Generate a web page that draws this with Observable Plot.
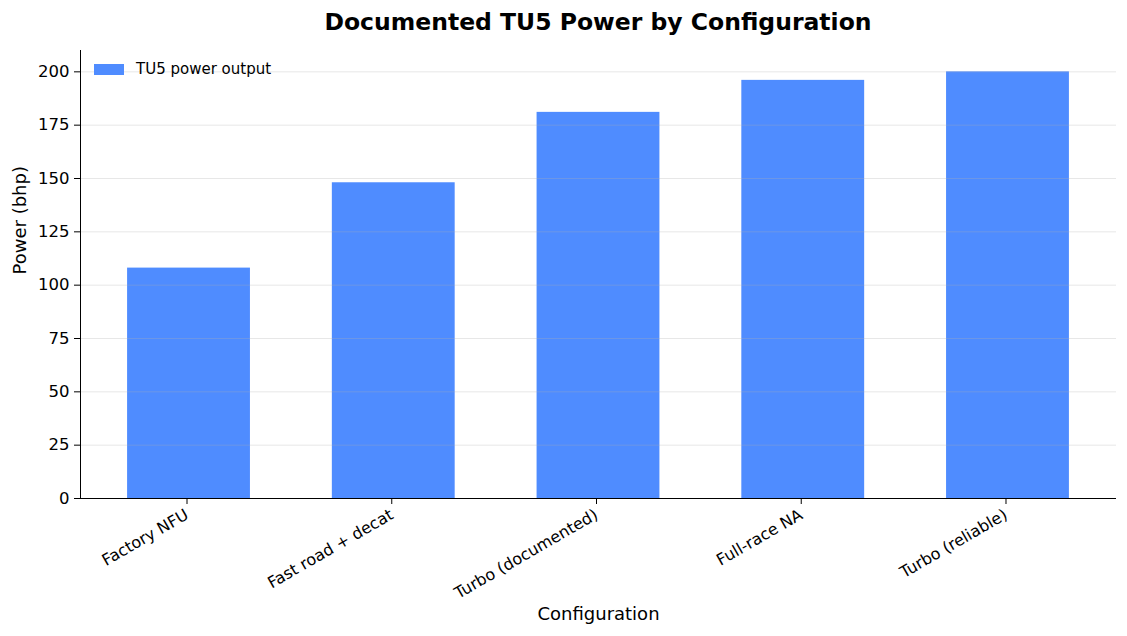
<!DOCTYPE html>
<html>
<head>
<meta charset="utf-8">
<script src="https://cdn.jsdelivr.net/npm/d3@7"></script>
<script src="https://cdn.jsdelivr.net/npm/@observablehq/plot@0.6"></script>
<style>
  html, body { margin: 0; padding: 0; background: #fff; }
  #wrap { position: relative; width: 1127px; height: 636px; font-family: "DejaVu Sans", sans-serif; }
  #title { position: absolute; left: 0; width: 1196px; top: 8px; text-align: center; font-weight: bold; font-size: 23.5px; color: #000; }
  #legend { position: absolute; left: 94px; top: 60px; display: flex; align-items: center; font-size: 15px; color: #000; }
  #legend .sw { width: 30px; height: 11px; background: #4f8cff; margin-right: 12px; }
  svg { position: absolute; left: 0; top: 0; }
</style>
</head>
<body>
<div id="wrap">
  <div id="title">Documented TU5 Power by Configuration</div>
  <div id="legend"><div class="sw"></div><span>TU5 power output</span></div>
</div>
<script>
const configurations = ["Factory NFU", "Fast road + decat", "Turbo (documented)", "Full-race NA", "Turbo (reliable)"];
const powerBhp = [108, 148, 181, 196, 200];
const yTicks = [0, 25, 50, 75, 100, 125, 150, 175, 200];

const data = configurations.map((c, i) => ({config: c, power: powerBhp[i]}));

const chart = Plot.plot({
  width: 1127,
  height: 636,
  marginLeft: 80,
  marginRight: 11,
  marginTop: 50,
  marginBottom: 138,
  style: {fontFamily: "DejaVu Sans, sans-serif", background: "transparent", color: "#000"},
  x: {domain: configurations, paddingInner: 0.4, paddingOuter: 0.23, round: false, label: null},
  y: {domain: [0, 210], label: null},
  marks: [
    Plot.barY(data, {x: "config", y: "power", fill: "#4f8cff"}),
    Plot.ruleY(yTicks.slice(1), {stroke: "#b0b0b0", strokeOpacity: 0.3, strokeWidth: 1}),
    Plot.axisY({ticks: yTicks, tickSize: 6, tickPadding: 5, fontSize: 16.5, label: null}),
    Plot.axisX({tickSize: 6, tickPadding: 9, dx: -2, tickRotate: -30, fontSize: 16, label: null}),
    Plot.ruleY([0], {stroke: "#000"}),
    Plot.text(["Configuration"], {frameAnchor: "bottom", lineAnchor: "middle", dy: 116, fontSize: 18, fill: "#000"}),
    Plot.text(["Power (bhp)"], {frameAnchor: "left", dx: -60, rotate: -90, fontSize: 18, fill: "#000"})
  ]
});
const wrap = document.getElementById("wrap");
wrap.insertBefore(chart, wrap.firstChild);
// left axis spine
d3.select(chart).append("line")
  .attr("x1", 80.5).attr("x2", 80.5).attr("y1", 50).attr("y2", 498.5)
  .attr("stroke", "#000");
</script>
</body>
</html>
